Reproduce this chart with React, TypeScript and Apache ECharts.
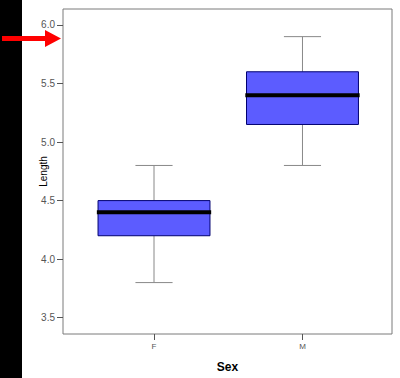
import React, { useEffect, useRef } from "react";
import * as echarts from "echarts";

const categories = ["F", "M"];
const mins = [3.8, 4.8];
const q1s = [4.2, 5.15];
const medians = [4.4, 5.4];
const q3s = [4.5, 5.6];
const maxs = [4.8, 5.9];
const yTicks = [3.5, 4.0, 4.5, 5.0, 5.5, 6.0];
const xTicks = [0, 1];
const yName = "Length";
const xName = "Sex";

export default function App() {
  const ref = useRef<HTMLDivElement>(null);
  useEffect(() => {
    if (!ref.current) return;
    const chart = echarts.init(ref.current, null, { renderer: "svg" });
    const data = categories.map((_, i) => [i, mins[i], q1s[i], medians[i], q3s[i], maxs[i]]);
    const BOX_W = 0.754;
    const CAP_W = 0.25;
    const MED_W = 0.77;
    chart.setOption({
      animation: false,
      backgroundColor: "#ffffff",
      textStyle: { fontFamily: "Liberation Sans, Arial, sans-serif" },
      grid: {
        left: 63,
        top: 9,
        right: 8,
        bottom: 43,
        show: true,
        borderColor: "#7a7a7a",
        borderWidth: 1,
        backgroundColor: "#ffffff",
      },
      xAxis: {
        type: "value",
        min: -0.613,
        max: 1.603,
        splitLine: { show: false },
        axisLine: { show: false, onZero: false },
        axisTick: { show: true, customValues: xTicks, length: 6, lineStyle: { color: "#555" } },
        axisLabel: {
          customValues: xTicks,
          formatter: (v: number) => categories[Math.round(v)] ?? "",
          color: "#555",
          fontSize: 8,
          margin: 8,
        },
        name: xName,
        nameLocation: "middle",
        nameGap: 27,
        nameMoveOverlap: false,
        nameTextStyle: { fontWeight: "bold", fontSize: 12, color: "#000" },
      },
      yAxis: {
        type: "value",
        min: 3.361,
        max: 6.136,
        splitLine: { show: false },
        axisLine: { show: false, onZero: false },
        axisTick: { show: true, customValues: yTicks, length: 6, lineStyle: { color: "#555" } },
        axisLabel: {
          customValues: yTicks,
          formatter: (v: number) => v.toFixed(1),
          color: "#555",
          fontSize: 10,
          margin: 8,
        },
        name: yName,
        nameLocation: "middle",
        nameRotate: 90,
        nameGap: 15,
        nameMoveOverlap: false,
        nameTextStyle: { fontSize: 10, color: "#000" },
      },
      series: [
        {
          type: "custom",
          data,
          encode: { x: 0, y: [1, 2, 3, 4, 5] },
          renderItem: (params: any, api: any) => {
            const x = api.value(0);
            const pMin = api.coord([x, api.value(1)]);
            const pQ1 = api.coord([x, api.value(2)]);
            const pMed = api.coord([x, api.value(3)]);
            const pQ3 = api.coord([x, api.value(4)]);
            const pMax = api.coord([x, api.value(5)]);
            const bw = api.size([BOX_W, 0])[0];
            const cw = api.size([CAP_W, 0])[0];
            const mw = api.size([MED_W, 0])[0];
            const cx = pMed[0];
            const gray = { stroke: "#888", lineWidth: 1 };
            return {
              type: "group",
              children: [
                { type: "line", shape: { x1: cx, y1: pMax[1], x2: cx, y2: pQ3[1] }, style: gray },
                { type: "line", shape: { x1: cx, y1: pQ1[1], x2: cx, y2: pMin[1] }, style: gray },
                { type: "line", shape: { x1: cx - cw / 2, y1: pMax[1], x2: cx + cw / 2, y2: pMax[1] }, style: gray },
                { type: "line", shape: { x1: cx - cw / 2, y1: pMin[1], x2: cx + cw / 2, y2: pMin[1] }, style: gray },
                {
                  type: "rect",
                  shape: { x: cx - bw / 2, y: pQ3[1], width: bw, height: pQ1[1] - pQ3[1] },
                  style: { fill: "#5c5cff", stroke: "#000070", lineWidth: 1 },
                },
                {
                  type: "line",
                  shape: { x1: cx - mw / 2, y1: pMed[1], x2: cx + mw / 2, y2: pMed[1] },
                  style: { stroke: "#000", lineWidth: 4 },
                },
              ],
            };
          },
        },
      ],
      graphic: [
        { type: "rect", left: 0, top: 0, shape: { width: 22, height: 378 }, style: { fill: "#000" } },
        {
          type: "polygon",
          shape: {
            points: [
              [2, 36],
              [45, 36],
              [45, 30],
              [61, 38.5],
              [45, 47],
              [45, 41],
              [2, 41],
            ],
          },
          style: { fill: "#ff0000" },
        },
      ],
    });
    return () => chart.dispose();
  }, []);
  return (
    <div
      ref={ref}
      style={{ position: "fixed", left: 0, top: 0, width: 400, height: 378, background: "#fff" }}
    />
  );
}
